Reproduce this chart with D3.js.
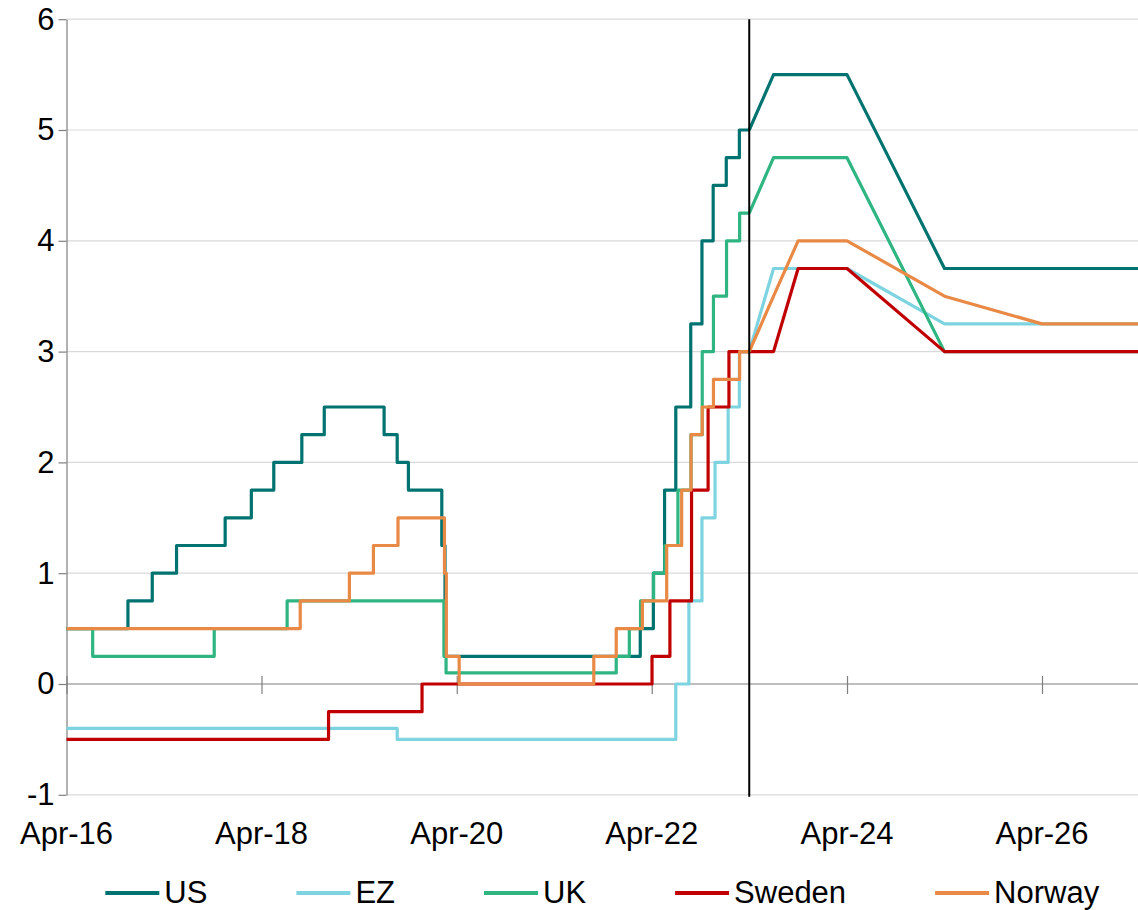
<!DOCTYPE html>
<html>
<head>
<meta charset="utf-8">
<script src="https://cdn.jsdelivr.net/npm/d3@7"></script>
<style>
  body { margin: 0; background: #fff; }
  svg { font-family: "Liberation Sans", Arial, sans-serif; }
  .axis text { fill: #000; font-size: 31px; }
</style>
</head>
<body>
<svg id="chart" width="1138" height="910"></svg>
<script>
// policy rates, steps (as drawn) up to Apr-23, then forecasts
const seriesNames = ['US', 'EZ', 'UK', 'Sweden', 'Norway'];
const seriesColors = ['#007370', '#7dd4e0', '#2eb582', '#c00000', '#e88946'];

const usHist = [
  ['2016-04-01', 0.5], ['2016-11-17', 0.75], ['2017-02-16', 1.0], ['2017-05-18', 1.25],
  ['2017-11-16', 1.5], ['2018-02-22', 1.75], ['2018-05-17', 2.0], ['2018-08-30', 2.25],
  ['2018-11-22', 2.5], ['2019-07-04', 2.25], ['2019-08-22', 2.0], ['2019-10-03', 1.75],
  ['2020-02-05', 1.25], ['2020-02-17', 0.25], ['2022-02-17', 0.5], ['2022-04-07', 1.0],
  ['2022-05-19', 1.75], ['2022-06-30', 2.5], ['2022-08-25', 3.25], ['2022-10-06', 4.0],
  ['2022-11-17', 4.5], ['2023-01-05', 4.75], ['2023-02-23', 5.0], ['2023-04-01', 5.0],
];
const ezHist = [
  ['2016-04-01', -0.4], ['2019-08-22', -0.5], ['2022-06-30', 0.0], ['2022-08-18', 0.75],
  ['2022-10-06', 1.5], ['2022-11-24', 2.0], ['2023-01-12', 2.5], ['2023-02-23', 3.0],
  ['2023-04-01', 3.0],
];
const ukHist = [
  ['2016-04-01', 0.5], ['2016-07-08', 0.25], ['2017-10-06', 0.5], ['2018-07-06', 0.75],
  ['2020-02-13', 0.25], ['2020-02-21', 0.1], ['2021-11-19', 0.25], ['2022-01-07', 0.5],
  ['2022-02-18', 0.75], ['2022-04-08', 1.0], ['2022-05-20', 1.25], ['2022-07-08', 1.75],
  ['2022-08-26', 2.25], ['2022-10-07', 3.0], ['2022-11-18', 3.5], ['2023-01-06', 4.0],
  ['2023-02-24', 4.25], ['2023-04-01', 4.25],
];
const swedenHist = [
  ['2016-04-01', -0.5], ['2018-12-08', -0.25], ['2019-11-23', 0.0], ['2022-04-02', 0.25],
  ['2022-06-08', 0.75], ['2022-08-28', 1.75], ['2022-10-29', 2.5], ['2023-01-15', 3.0],
  ['2023-04-01', 3.0],
];
const norwayHist = [
  ['2016-04-01', 0.5], ['2018-08-24', 0.75], ['2019-02-24', 1.0], ['2019-05-25', 1.25],
  ['2019-08-25', 1.5], ['2020-02-15', 1.0], ['2020-02-22', 0.25], ['2020-04-10', 0.0],
  ['2021-08-27', 0.25], ['2021-11-19', 0.5], ['2022-02-25', 0.75], ['2022-05-27', 1.25],
  ['2022-07-22', 1.75], ['2022-08-26', 2.25], ['2022-10-07', 2.5], ['2022-11-18', 2.75],
  ['2023-02-24', 3.0], ['2023-04-01', 3.0],
];

const usFcst = [
  ['2023-04-01', 5.0], ['2023-07-01', 5.5], ['2024-04-01', 5.5], ['2025-04-01', 3.75], ['2027-04-01', 3.75],
];
const ezFcst = [
  ['2023-04-01', 3.0], ['2023-07-01', 3.75], ['2024-04-01', 3.75], ['2025-04-01', 3.25], ['2027-04-01', 3.25],
];
const ukFcst = [
  ['2023-04-01', 4.25], ['2023-07-01', 4.75], ['2024-04-01', 4.75], ['2025-04-01', 3.0], ['2027-04-01', 3.0],
];
const swedenFcst = [
  ['2023-04-01', 3.0], ['2023-07-01', 3.0], ['2023-10-01', 3.75], ['2024-04-01', 3.75],
  ['2025-04-01', 3.0], ['2027-04-01', 3.0],
];
const norwayFcst = [
  ['2023-04-01', 3.0], ['2023-07-01', 3.5], ['2023-10-01', 4.0], ['2024-04-01', 4.0],
  ['2025-04-01', 3.5], ['2026-04-01', 3.25], ['2027-04-01', 3.25],
];

const histData = [usHist, ezHist, ukHist, swedenHist, norwayHist];
const fcstData = [usFcst, ezFcst, ukFcst, swedenFcst, norwayFcst];

const xTicks = ['2016-04-01', '2018-04-01', '2020-04-01', '2022-04-01', '2024-04-01', '2026-04-01'];
const yTicks = [-1, 0, 1, 2, 3, 4, 5, 6];
const forecastStart = '2023-04-01';

const parse = d3.timeParse('%Y-%m-%d');
const width = 1138;
const plot = { left: 66.5, right: 1139.5, top: 19.2, bottom: 794.8 };

const x = d3.scaleTime()
  .domain([parse('2016-04-01'), parse('2027-04-01')])
  .range([plot.left, plot.right]);

const y = d3.scaleLinear()
  .domain([-1, 6])
  .range([plot.bottom, plot.top]);

const svg = d3.select('#chart');

// gridlines
svg.append('g')
  .selectAll('line')
  .data(yTicks.filter(v => v !== 0))
  .enter().append('line')
    .attr('x1', plot.left)
    .attr('x2', width)
    .attr('y1', d => y(d))
    .attr('y2', d => y(d))
    .style('stroke', '#d9d9d9')
    .style('stroke-width', 1.2);

// y axis (plain hyphen for negatives, like the original)
const yAxis = d3.axisLeft(y)
  .tickValues(yTicks)
  .tickFormat(d => String(d))
  .tickSizeInner(8)
  .tickSizeOuter(0)
  .tickPadding(4);

svg.append('g')
  .attr('class', 'axis y')
  .attr('transform', `translate(${plot.left},0)`)
  .call(yAxis)
  .call(g => g.selectAll('path, line').style('stroke', '#7f7f7f').style('stroke-width', 1.2));

// zero line with crossing ticks
const y0 = y(0);
svg.append('line')
  .attr('x1', plot.left)
  .attr('x2', width)
  .attr('y1', y0)
  .attr('y2', y0)
  .style('stroke', '#7f7f7f')
  .style('stroke-width', 1.2);

const xAxis = d3.axisBottom(x)
  .tickValues(xTicks.map(parse))
  .tickFormat('')
  .tickSizeInner(18)
  .tickSizeOuter(0);

svg.append('g')
  .attr('class', 'axis x')
  .attr('transform', `translate(0,${y0 - 8})`)
  .call(xAxis)
  .call(g => g.select('.domain').remove())
  .call(g => g.selectAll('line').style('stroke', '#7f7f7f').style('stroke-width', 1.2));

// x labels sit low, below the plot
svg.append('g')
  .attr('class', 'axis')
  .selectAll('text')
  .data(xTicks.map(parse))
  .enter().append('text')
    .attr('x', d => x(d))
    .attr('y', 844)
    .attr('text-anchor', 'middle')
    .text(d3.timeFormat('%b-%y'));

// series
const histLine = d3.line()
  .x(d => x(parse(d[0])))
  .y(d => y(d[1]))
  .curve(d3.curveStepAfter);

const fcstLine = d3.line()
  .x(d => x(parse(d[0])))
  .y(d => y(d[1]));

seriesNames.forEach((name, i) => {
  const g = svg.append('g').attr('class', `series ${name}`);
  g.append('path')
    .attr('d', histLine(histData[i]))
    .style('fill', 'none')
    .style('stroke', seriesColors[i])
    .style('stroke-width', 3.2)
    .style('stroke-linejoin', 'round');
  g.append('path')
    .attr('d', fcstLine(fcstData[i]))
    .style('fill', 'none')
    .style('stroke', seriesColors[i])
    .style('stroke-width', 3.2)
    .style('stroke-linejoin', 'round');
});

// forecast marker
svg.append('line')
  .attr('x1', x(parse(forecastStart)))
  .attr('x2', x(parse(forecastStart)))
  .attr('y1', plot.top)
  .attr('y2', plot.bottom + 2)
  .style('stroke', '#000')
  .style('stroke-width', 2);

// legend, centred under the plot
const legend = svg.append('g').attr('class', 'legend');
const items = legend.selectAll('g')
  .data(seriesNames)
  .enter().append('g');

items.append('line')
  .attr('x1', 0)
  .attr('x2', 54)
  .attr('y1', 893)
  .attr('y2', 893)
  .style('stroke', (d, i) => seriesColors[i])
  .style('stroke-width', 4);

items.append('text')
  .attr('x', 59)
  .attr('y', 903)
  .style('font-size', '31px')
  .style('fill', '#000')
  .text(d => d);

const widths = [];
items.each(function () {
  widths.push(59 + d3.select(this).select('text').node().getComputedTextLength());
});
const total = d3.sum(widths) + 89 * (widths.length - 1);
let offset = (plot.left + width) / 2 - total / 2;
items.attr('transform', (d, i) => {
  const t = `translate(${offset},0)`;
  offset += widths[i] + 89;
  return t;
});
</script>
</body>
</html>
